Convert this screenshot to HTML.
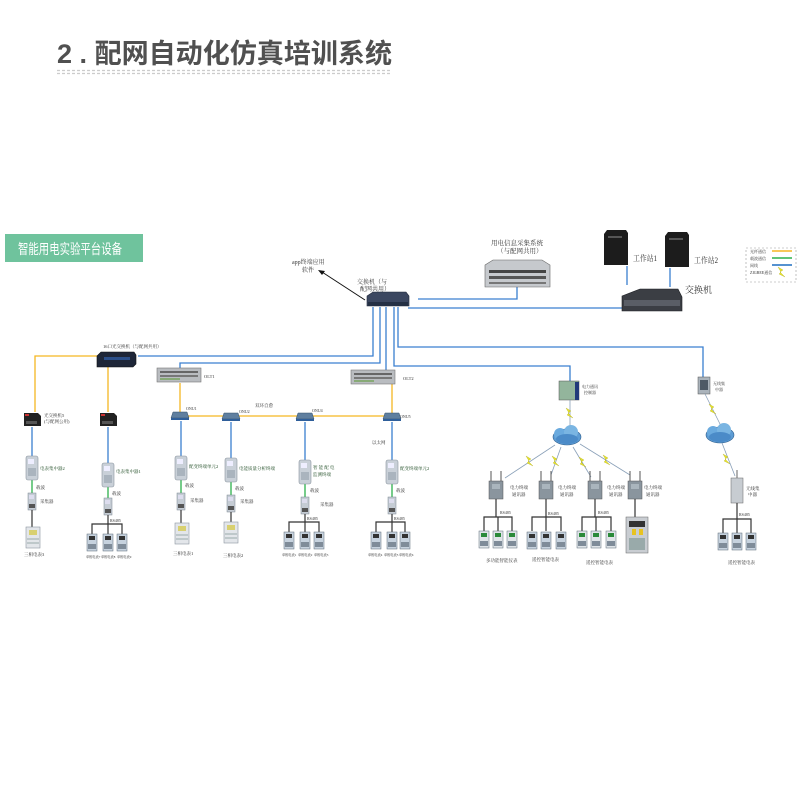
<!DOCTYPE html>
<html><head><meta charset="utf-8"><style>
html,body{margin:0;padding:0;background:#fff;width:800px;height:800px;overflow:hidden}
svg{display:block}
text{font-family:"Liberation Serif","Noto Serif CJK SC",serif;fill:#333}
</style></head><body>
<svg width="800" height="800" viewBox="0 0 800 800" xmlns="http://www.w3.org/2000/svg">
<defs>
<g id="meter"><rect x="-6" y="0" width="12" height="24" rx="2" fill="#c9d0d8" stroke="#8a949e" stroke-width="0.6"/><rect x="-4" y="3" width="6" height="5" fill="#eef"/><rect x="-4" y="12" width="8" height="8" fill="#aab4be"/></g>
<g id="coll"><rect x="-4" y="0" width="8" height="17" fill="#c5ccd4" stroke="#7d8791" stroke-width="0.5"/><rect x="-3" y="2" width="5" height="4" fill="#dde"/><rect x="-3" y="11" width="6" height="4" fill="#555"/></g>
<g id="bigm"><rect x="-7" y="0" width="14" height="21" fill="#e3e6ea" stroke="#8c959e" stroke-width="0.6"/><rect x="-4" y="3" width="8" height="5" fill="#d8d070"/><line x1="-6" y1="12" x2="6" y2="12" stroke="#9aa"/><line x1="-6" y1="16" x2="6" y2="16" stroke="#9aa"/></g>
<g id="sm"><rect x="-5" y="0" width="10" height="17" fill="#c6d2de" stroke="#5d6a78" stroke-width="0.5"/><rect x="-3" y="2" width="6" height="4" fill="#333"/><rect x="-4" y="10" width="8" height="5" fill="#7f8c99"/></g>
<g id="smg"><rect x="-5" y="0" width="10" height="17" fill="#dfe4e8" stroke="#5d6a78" stroke-width="0.5"/><rect x="-3" y="2" width="6" height="4" fill="#2a8a3a"/><rect x="-4" y="10" width="8" height="5" fill="#7f8c99"/></g>
<g id="onu"><path d="M-7 0h14l2 6h-18z" fill="#5f7f9f" stroke="#34506a" stroke-width="0.5"/><rect x="-9" y="6" width="18" height="2" fill="#2f5f9a"/></g>
<g id="olt"><rect x="0" y="0" width="44" height="14" fill="#b9bcc0" stroke="#777" stroke-width="0.6"/><rect x="3" y="3" width="38" height="2" fill="#666"/><rect x="3" y="7" width="38" height="2" fill="#777"/><rect x="3" y="10" width="20" height="2" fill="#8a7"/></g>
<g id="comm"><line x1="-5" y1="-10" x2="-5" y2="0" stroke="#555"/><line x1="5" y1="-10" x2="5" y2="0" stroke="#555"/><rect x="-7" y="0" width="14" height="18" fill="#8a959e" stroke="#555" stroke-width="0.5"/><rect x="-4" y="3" width="8" height="5" fill="#aab5bd"/></g>
<g id="conv"><path d="M-8 0h14l3 3v10h-17z" fill="#222"/><rect x="-7" y="1" width="4" height="2" fill="#c33"/><rect x="-6" y="8" width="11" height="3" fill="#555"/></g>
<g id="cloud"><ellipse cx="0" cy="0" rx="14" ry="8" fill="#5d9cd4" stroke="#2e5f8e" stroke-width="0.6"/><circle cx="-7" cy="-3" r="6" fill="#6aaade"/><circle cx="4" cy="-5" r="7" fill="#7ab5e2"/><ellipse cx="0" cy="2" rx="11" ry="5" fill="#4b8bc8"/></g>
<g id="bolt"><path d="M-4 -5l5 3-3 2 5 5-6-3 2-2z" fill="#e6e32a" stroke="#a9a21a" stroke-width="0.3"/></g>
</defs>

<!-- title -->
<text x="57" y="63" font-weight="bold" font-size="27" textLength="335" lengthAdjust="spacingAndGlyphs" style="font-family:'Liberation Sans','Noto Sans CJK SC',sans-serif;fill:#505050">2 . 配网自动化仿真培训系统</text>
<line x1="57" y1="70.5" x2="392" y2="70.5" stroke="#ccc" stroke-width="1.2" stroke-dasharray="3,2"/>
<line x1="57" y1="73.5" x2="392" y2="73.5" stroke="#ccc" stroke-width="1.2" stroke-dasharray="3,2"/>

<rect x="5" y="234" width="138" height="28" fill="#6fc39d"/>
<text x="18" y="254" font-size="14" textLength="104" lengthAdjust="spacingAndGlyphs" style="fill:#fff;font-family:'Liberation Sans','Noto Sans CJK SC',sans-serif">智能用电实验平台设备</text>

<!-- legend -->
<rect x="746" y="248" width="50" height="34" fill="none" stroke="#999" stroke-width="0.6" stroke-dasharray="2,2"/>
<text x="750" y="253" font-size="4">光纤通信</text><line x1="772" y1="251" x2="792" y2="251" stroke="#f5b622" stroke-width="1.5"/>
<text x="750" y="260" font-size="4">载波通信</text><line x1="772" y1="258" x2="792" y2="258" stroke="#2cb04c" stroke-width="1.5"/>
<text x="750" y="267" font-size="4">网线</text><line x1="772" y1="265" x2="792" y2="265" stroke="#1f6fc0" stroke-width="1.5"/>
<text x="750" y="274" font-size="4">ZIGBEE通信</text><use href="#bolt" x="782" y="272"/>

<!-- blue network lines -->
<g fill="none" stroke="#3a7fd0" stroke-width="1.3">
<polyline points="408,308 652,308"/>
<polyline points="418,299 517,299 517,287"/>
<line x1="627" y1="266" x2="627" y2="285"/><line x1="670" y1="268" x2="670" y2="287"/>
<polyline points="373,307 373,356 138,356"/>
<polyline points="380,307 380,363 180,363 180,369"/>
<polyline points="386,307 386,371"/>
<polyline points="394,307 394,366 570,366 570,381"/>
<polyline points="398,307 398,347 703,347 703,377"/>
</g>
<!-- yellow fiber -->
<g fill="none" stroke="#f5b622" stroke-width="1.3">
<polyline points="97,356 35,356 35,412"/>
<line x1="108" y1="366" x2="108" y2="412"/>
<line x1="180" y1="383" x2="180" y2="413"/>
<line x1="392" y1="384" x2="392" y2="413"/>
<line x1="180" y1="416" x2="392" y2="416"/>
</g>

<!-- top devices -->
<path d="M367 296 l6 -4 h33 l3 4 v10 h-42z" fill="#3b4760" stroke="#222a3a" stroke-width="0.6"/>
<rect x="368" y="302" width="40" height="4" fill="#243044"/>
<text x="357" y="284" font-size="6">交换机（与</text><text x="360" y="291" font-size="6">配网共用）</text>
<line x1="365" y1="300" x2="322" y2="272" stroke="#111" stroke-width="1"/><path d="M318 270l7 1-3 4z" fill="#111"/>
<text x="292" y="264" font-size="6">app终端应用</text><text x="302" y="272" font-size="6">软件</text>
<text x="491" y="245" font-size="6.5">用电信息采集系统</text><text x="497" y="253" font-size="6.5">（与配网共用）</text>
<path d="M485 265 l8 -5 h49 l8 5 v22 h-65z" fill="#c6c9cd" stroke="#666" stroke-width="0.6"/>
<rect x="489" y="270" width="57" height="3" fill="#444"/><rect x="489" y="276" width="57" height="3" fill="#555"/><rect x="489" y="282" width="57" height="2" fill="#777"/>
<path d="M604 234 l3 -4 h19 l2 3 v32 h-24z" fill="#1c1c1c"/><rect x="608" y="236" width="14" height="2" fill="#555"/>
<path d="M665 236 l3 -4 h19 l2 3 v32 h-24z" fill="#1c1c1c"/><rect x="669" y="238" width="14" height="2" fill="#555"/>
<text x="633" y="261" font-size="8" textLength="24" lengthAdjust="spacingAndGlyphs">工作站1</text><text x="694" y="263" font-size="8" textLength="24" lengthAdjust="spacingAndGlyphs">工作站2</text>
<path d="M622 296 l18 -7 h38 l4 8 v14 h-60z" fill="#3b3e44" stroke="#1e2024" stroke-width="0.6"/>
<rect x="624" y="300" width="56" height="6" fill="#5a5e66"/>
<text x="685" y="293" font-size="9">交换机</text>

<!-- 16口 switch -->
<path d="M97 356 l4 -4 h33 l2 3 v9 l-3 3 h-36z" fill="#1e2638" stroke="#111" stroke-width="0.6"/><rect x="104" y="357" width="26" height="3" fill="#2b4f8a"/>
<text x="103" y="348" font-size="4.5">16口光交换机（与配网共用）</text>
<use href="#olt" x="157" y="368"/><text x="204" y="378" font-size="4.5">OLT1</text>
<use href="#olt" x="351" y="370"/><text x="403" y="380" font-size="4.5">OLT2</text>
<text x="255" y="407" font-size="4.5">双环自愈</text>
<use href="#onu" x="180" y="412"/><text x="186" y="410" font-size="4">ONU1</text>
<use href="#onu" x="231" y="413"/><text x="239" y="413" font-size="4">ONU2</text>
<use href="#onu" x="305" y="413"/><text x="312" y="412" font-size="4">ONU4</text>
<use href="#onu" x="392" y="413"/><text x="400" y="418" font-size="4">ONU5</text>
<use href="#conv" x="32" y="413"/><text x="44" y="417" font-size="4.5">光交换机5</text><text x="44" y="423" font-size="4.5">(与配网公用)</text>
<use href="#conv" x="108" y="413"/>

<g stroke="#3a7fd0" stroke-width="1.3"><line x1="32" y1="427" x2="32" y2="456"/><line x1="108" y1="427" x2="108" y2="463"/><line x1="181" y1="421" x2="181" y2="456"/><line x1="231" y1="422" x2="231" y2="458"/><line x1="305" y1="422" x2="305" y2="460"/><line x1="392" y1="422" x2="392" y2="460"/></g>
<text x="372" y="444" font-size="4.5">以太网</text>
<g stroke="#2cb04c" stroke-width="1.3"><line x1="32" y1="480" x2="32" y2="493"/><line x1="108" y1="487" x2="108" y2="498"/><line x1="181" y1="480" x2="181" y2="493"/><line x1="231" y1="481" x2="231" y2="495"/><line x1="305" y1="484" x2="305" y2="497"/><line x1="392" y1="484" x2="392" y2="497"/></g>
<use href="#meter" x="32" y="456"/><text x="40" y="470" font-size="4.5" style="fill:#1d4a22">电表集中器2</text>
<use href="#meter" x="108" y="463"/><text x="116" y="473" font-size="4.5" style="fill:#1d4a22">电表集中器1</text>
<use href="#meter" x="181" y="456"/><text x="189" y="468" font-size="4.5" style="fill:#1d4a22">配变终端单元2</text>
<use href="#meter" x="231" y="458"/><text x="239" y="470" font-size="4.5" style="fill:#1d4a22">电能质量分析终端</text>
<use href="#meter" x="305" y="460"/><text x="313" y="469" font-size="4.5" style="fill:#1d4a22">智 能 配 电</text><text x="313" y="476" font-size="4.5" style="fill:#1d4a22">监测终端</text>
<use href="#meter" x="392" y="460"/><text x="400" y="470" font-size="4.5" style="fill:#1d4a22">配变终端单元2</text>
<g font-size="4.5"><text x="36" y="489">载波</text><text x="112" y="495">载波</text><text x="185" y="487">载波</text><text x="235" y="490">载波</text><text x="310" y="492">载波</text><text x="396" y="492">载波</text>
<text x="40" y="503">采集器</text><text x="190" y="502">采集器</text><text x="240" y="503">采集器</text><text x="320" y="506">采集器</text></g>
<use href="#coll" x="32" y="493"/><use href="#coll" x="108" y="498"/><use href="#coll" x="181" y="493"/><use href="#coll" x="231" y="495"/><use href="#coll" x="305" y="497"/><use href="#coll" x="392" y="497"/>
<g stroke="#333" stroke-width="1.2" fill="none"><line x1="32" y1="510" x2="32" y2="527"/><line x1="181" y1="510" x2="181" y2="524"/><line x1="231" y1="512" x2="231" y2="523"/>
<polyline points="108,515 108,524"/><polyline points="92,534 92,524 122,524 122,534"/><line x1="108" y1="524" x2="108" y2="534"/>
<polyline points="305,514 305,522"/><polyline points="289,532 289,522 319,522 319,532"/><line x1="305" y1="522" x2="305" y2="532"/>
<polyline points="392,514 392,522"/><polyline points="376,532 376,522 405,522 405,532"/><line x1="392" y1="522" x2="392" y2="532"/></g>
<g font-size="4"><text x="110" y="522">RS485</text><text x="307" y="520">RS485</text><text x="394" y="520">RS485</text></g>
<use href="#bigm" x="33" y="527"/><text x="24" y="556" font-size="4.5">三相电表3</text>
<use href="#bigm" x="182" y="523"/><text x="173" y="555" font-size="4.5">三相电表1</text>
<use href="#bigm" x="231" y="522"/><text x="223" y="557" font-size="4.5">三相电表2</text>
<use href="#sm" x="92" y="534"/><use href="#sm" x="108" y="534"/><use href="#sm" x="122" y="534"/>
<use href="#sm" x="289" y="532"/><use href="#sm" x="305" y="532"/><use href="#sm" x="319" y="532"/>
<use href="#sm" x="376" y="532"/><use href="#sm" x="392" y="532"/><use href="#sm" x="405" y="532"/>
<g font-size="3.2"><text x="86" y="558">单相电表7</text><text x="101" y="558">单相电表8</text><text x="117" y="558">单相电表9</text>
<text x="282" y="556">单相电表1</text><text x="298" y="556">单相电表2</text><text x="314" y="556">单相电表3</text>
<text x="368" y="556">单相电表4</text><text x="384" y="556">单相电表5</text><text x="399" y="556">单相电表6</text></g>

<!-- right wireless section -->
<rect x="559" y="381" width="20" height="19" fill="#93b59c" stroke="#555" stroke-width="0.5"/><rect x="575" y="382" width="4" height="18" fill="#223a7a"/>
<text x="582" y="388" font-size="4">电力通讯</text><text x="584" y="394" font-size="4">控制器</text>
<line x1="570" y1="400" x2="570" y2="426" stroke="#8aa0b8" stroke-width="0.8"/><use href="#bolt" x="570" y="413"/>
<use href="#cloud" x="567" y="437"/>
<rect x="698" y="377" width="12" height="17" fill="#aab3bb" stroke="#555" stroke-width="0.5"/><rect x="700" y="380" width="8" height="10" fill="#4e5a66"/>
<text x="713" y="385" font-size="4">无线集</text><text x="715" y="391" font-size="4">中器</text>
<line x1="705" y1="394" x2="722" y2="428" stroke="#8aa0b8" stroke-width="0.8"/><use href="#bolt" x="713" y="409"/>
<use href="#cloud" x="720" y="435"/>
<line x1="722" y1="443" x2="735" y2="476" stroke="#8aa0b8" stroke-width="0.8"/><use href="#bolt" x="727" y="459"/>
<g stroke="#8aa0b8" stroke-width="0.8"><line x1="555" y1="445" x2="505" y2="478"/><line x1="561" y1="447" x2="551" y2="475"/><line x1="573" y1="447" x2="591" y2="477"/><line x1="580" y1="444" x2="630" y2="475"/></g>
<use href="#bolt" x="530" y="461"/><use href="#bolt" x="556" y="461"/><use href="#bolt" x="583" y="462"/><use href="#bolt" x="607" y="460"/>
<use href="#comm" x="496" y="481"/><use href="#comm" x="546" y="481"/><use href="#comm" x="595" y="481"/><use href="#comm" x="635" y="481"/>
<g font-size="4.5"><text x="510" y="489">电力终端</text><text x="512" y="496">通讯器</text><text x="558" y="489">电力终端</text><text x="560" y="496">通讯器</text><text x="607" y="489">电力终端</text><text x="609" y="496">通讯器</text><text x="644" y="489">电力终端</text><text x="646" y="496">通讯器</text></g>
<rect x="731" y="478" width="12" height="25" fill="#c7ccd1" stroke="#666" stroke-width="0.5"/><line x1="737" y1="470" x2="737" y2="478" stroke="#666"/>
<text x="746" y="490" font-size="4.5">无线集</text><text x="748" y="496" font-size="4.5">中器</text>
<g stroke="#333" stroke-width="1.2" fill="none">
<line x1="496" y1="499" x2="496" y2="517"/><polyline points="484,531 484,517 512,517 512,531"/><line x1="498" y1="517" x2="498" y2="531"/>
<line x1="546" y1="499" x2="546" y2="517"/><polyline points="532,531 532,517 561,517 561,531"/><line x1="546" y1="517" x2="546" y2="531"/>
<line x1="595" y1="499" x2="595" y2="517"/><polyline points="582,531 582,517 611,517 611,531"/><line x1="596" y1="517" x2="596" y2="531"/>
<line x1="635" y1="499" x2="635" y2="518"/>
<line x1="737" y1="503" x2="737" y2="519"/><polyline points="723,533 723,519 751,519 751,533"/><line x1="737" y1="519" x2="737" y2="533"/></g>
<g font-size="4"><text x="500" y="514">RS485</text><text x="548" y="515">RS485</text><text x="598" y="514">RS485</text><text x="739" y="516">RS485</text></g>
<use href="#smg" x="484" y="531"/><use href="#smg" x="498" y="531"/><use href="#smg" x="512" y="531"/>
<use href="#sm" x="532" y="532"/><use href="#sm" x="546" y="532"/><use href="#sm" x="561" y="532"/>
<use href="#smg" x="582" y="531"/><use href="#smg" x="596" y="531"/><use href="#smg" x="611" y="531"/>
<rect x="626" y="517" width="22" height="36" fill="#c9cdd2" stroke="#666" stroke-width="0.5"/><rect x="629" y="521" width="16" height="6" fill="#333"/><rect x="632" y="529" width="4" height="6" fill="#e8c320"/><rect x="639" y="529" width="4" height="6" fill="#e8c320"/><rect x="629" y="538" width="16" height="12" fill="#9aa"/>
<use href="#sm" x="723" y="533"/><use href="#sm" x="737" y="533"/><use href="#sm" x="751" y="533"/>
<g font-size="4.5"><text x="486" y="562">多功能智能仪表</text><text x="532" y="561">遥控智能电表</text><text x="586" y="564">遥控智能电表</text><text x="728" y="564">遥控智能电表</text></g>
</svg>
</body></html>
